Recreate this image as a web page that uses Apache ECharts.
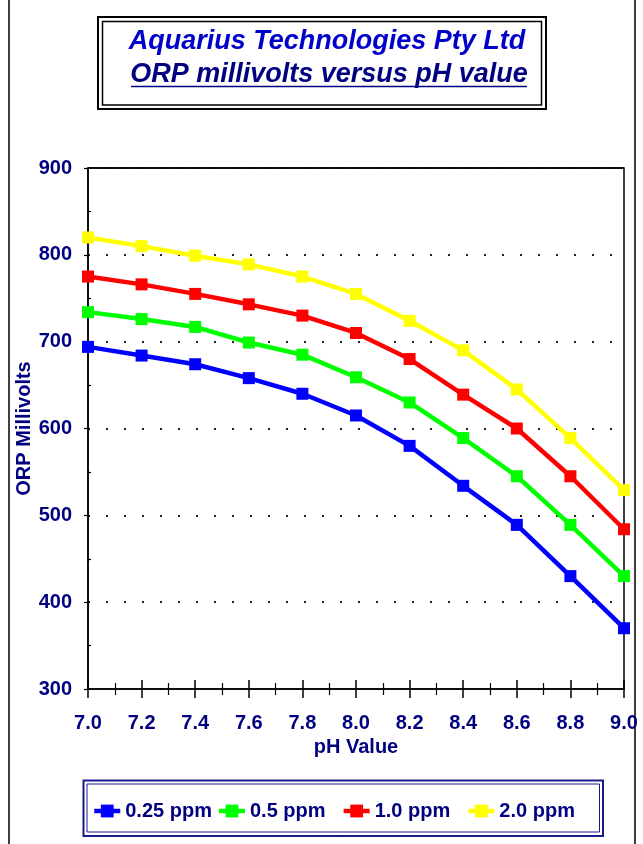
<!DOCTYPE html>
<html>
<head>
<meta charset="utf-8">
<title>ORP millivolts versus pH value</title>
<script src="https://cdn.jsdelivr.net/npm/echarts@6/dist/echarts.min.js"></script>
<style>
  html, body { margin: 0; padding: 0; background: #fff; }
  #chart { width: 643px; height: 844px; }
</style>
</head>
<body>
<div id="chart"></div>
<script>
// pH values along the x axis
const phValues = [7.0, 7.2, 7.4, 7.6, 7.8, 8.0, 8.2, 8.4, 8.6, 8.8, 9.0]

// ORP millivolts per chlorine level
const orp025 = [694, 684, 674, 658, 640, 615, 580, 534, 489, 430, 370]
const orp05 = [734, 726, 717, 699, 685, 659, 630, 589, 545, 489, 430]
const orp10 = [775, 766, 755, 743, 730, 710, 680, 639, 600, 545, 484]
const orp20 = [820, 810, 799, 789, 775, 755, 724, 690, 645, 589, 529]

const seriesNames = ['0.25 ppm', '0.5 ppm', '1.0 ppm', '2.0 ppm']
const seriesColors = ['#0000ff', '#00ff00', '#ff0000', '#ffff00']

const FONT = 'Arial, "Liberation Sans", sans-serif'
const NAVY = '#000080'

const chart = echarts.init(document.getElementById('chart'))

function pairs(values) {
  return phValues.map((ph, i) => [ph, values[i]])
}

const series = [orp025, orp05, orp10, orp20].map((vals, i) => ({
  name: seriesNames[i],
  type: 'line',
  xAxisIndex: 0,
  yAxisIndex: 0,
  data: pairs(vals),
  symbol: 'rect',
  symbolSize: 12,
  color: seriesColors[i],
  lineStyle: { width: 4.5, color: seriesColors[i] },
  itemStyle: { color: seriesColors[i] }
}))

// one legend per entry so every slot has the same width, like the original
const legends = seriesNames.map((name, i) => ({
  data: [name],
  left: 92 + i * 124.7, top: 801, padding: 0,
  itemWidth: 26, itemHeight: 16,
  lineStyle: { width: 4.5 },
  textStyle: { fontFamily: FONT, fontSize: 20, fontWeight: 'bold', color: NAVY }
}))

chart.setOption({
  animation: false,
  backgroundColor: '#fff',
  title: [
    {
      text: 'Aquarius Technologies Pty Ltd',
      left: 327, top: 28, textAlign: 'center', padding: 0,
      textStyle: { fontFamily: FONT, fontSize: 27, fontWeight: 'bold', fontStyle: 'italic', color: '#0000cc' }
    },
    {
      text: 'ORP millivolts versus pH value',
      left: 329, top: 61, textAlign: 'center', padding: 0,
      textStyle: { fontFamily: FONT, fontSize: 27, fontWeight: 'bold', fontStyle: 'italic', color: NAVY }
    }
  ],
  grid: {
    left: 88, right: 19, top: 168, bottom: 155,
    show: true, borderColor: '#000', borderWidth: 1.5
  },
  legend: legends,
  xAxis: [
    {
      type: 'value', min: 7, max: 9, interval: 0.2,
      position: 'bottom',
      name: 'pH Value', nameLocation: 'middle', nameGap: 48,
      nameTextStyle: { fontFamily: FONT, fontSize: 20, fontWeight: 'bold', color: NAVY },
      axisLine: { lineStyle: { color: '#000', width: 1.5 } },
      axisTick: { show: true, length: 9, lineStyle: { color: '#000', width: 1.5 } },
      minorTick: { show: true, splitNumber: 2, length: 6, lineStyle: { color: '#000', width: 1.2 } },
      axisLabel: {
        margin: 24, showMinLabel: true, showMaxLabel: true,
        fontFamily: FONT, fontSize: 20, fontWeight: 'bold', color: NAVY,
        formatter: v => v.toFixed(1)
      },
      splitLine: { show: false }
    },
    {
      // inner half of the crossing ticks
      type: 'value', min: 7, max: 9, interval: 0.2,
      position: 'bottom',
      axisLine: { show: false },
      axisTick: { show: true, inside: true, length: 9, lineStyle: { color: '#000', width: 1.5 } },
      minorTick: { show: true, splitNumber: 2, length: 6, lineStyle: { color: '#000', width: 1.2 } },
      axisLabel: { show: false },
      splitLine: { show: false }
    }
  ],
  yAxis: [
    {
      type: 'value', min: 300, max: 900, interval: 100,
      position: 'left',
      name: 'ORP Millivolts', nameLocation: 'middle', nameGap: 54,
      nameMoveOverlap: false,
      nameTextStyle: { fontFamily: FONT, fontSize: 20, fontWeight: 'bold', color: NAVY },
      axisLine: { show: true, lineStyle: { color: '#000', width: 1.5 } },
      axisTick: { show: true, length: 4, lineStyle: { color: '#000', width: 1.2 } },
      axisLabel: {
        margin: 16, fontFamily: FONT, fontSize: 20, fontWeight: 'bold', color: NAVY
      },
      splitLine: { show: true, lineStyle: { color: '#222', width: 2, type: [2, 16] } }
    },
    {
      type: 'value', min: 300, max: 900, interval: 100,
      position: 'left',
      axisLine: { show: false },
      axisTick: { show: false, inside: true },
      minorTick: { show: true, splitNumber: 2, length: 3, lineStyle: { color: '#000', width: 1.2 } },
      axisLabel: { show: false },
      splitLine: { show: false }
    }
  ],
  graphic: [
    // outer chart frame sides
    { type: 'line', shape: { x1: 9, y1: 0, x2: 9, y2: 844 }, style: { stroke: '#000', lineWidth: 1.5 } },
    { type: 'line', shape: { x1: 635, y1: 0, x2: 635, y2: 844 }, style: { stroke: '#000', lineWidth: 1.5 } },
    // top border of the plot, drawn over the 900 grid line
    { type: 'line', z: 100, shape: { x1: 88, y1: 168, x2: 624, y2: 168 }, style: { stroke: '#000', lineWidth: 1.5 } },
    // title box, double border
    { type: 'rect', shape: { x: 98, y: 17, width: 448, height: 92 }, style: { fill: null, stroke: '#000', lineWidth: 2 } },
    { type: 'rect', shape: { x: 102.5, y: 21.5, width: 439, height: 83.5 }, style: { fill: null, stroke: '#000', lineWidth: 1.5 } },
    // underline of second title line
    { type: 'line', shape: { x1: 131, y1: 86.5, x2: 527, y2: 86.5 }, style: { stroke: NAVY, lineWidth: 1.5 } },
    // legend box, double border
    { type: 'rect', shape: { x: 83.5, y: 780.5, width: 519.5, height: 55.5 }, style: { fill: null, stroke: '#1a1a90', lineWidth: 2 } },
    { type: 'rect', shape: { x: 87, y: 784, width: 512.5, height: 48 }, style: { fill: null, stroke: '#1a1a90', lineWidth: 1 } }
  ],
  series: series
})
</script>
</body>
</html>
